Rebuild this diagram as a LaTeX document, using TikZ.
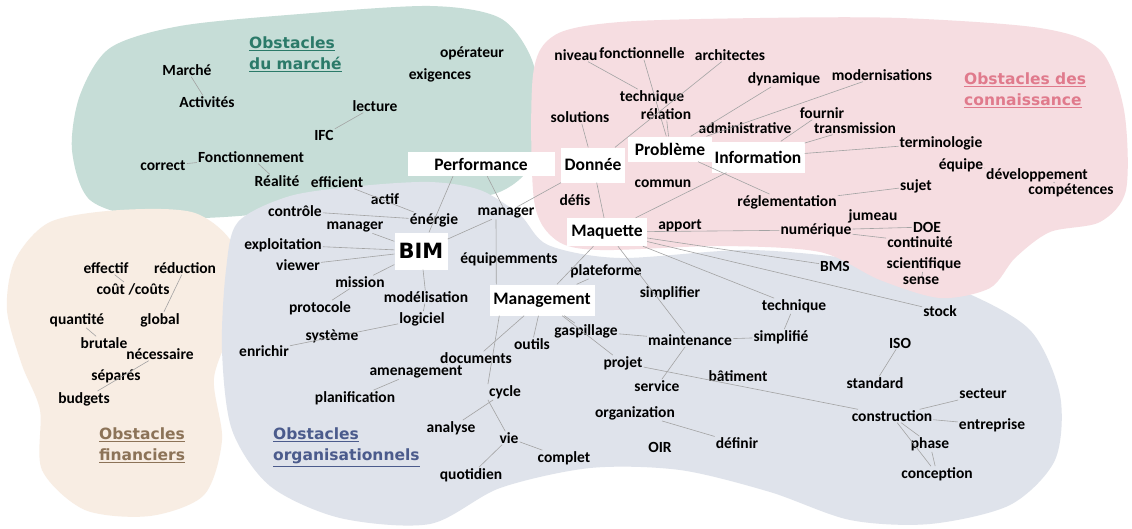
\documentclass[tikz,border=0pt]{standalone}
\usepackage{fontspec}
\setmainfont{Carlito}
\newfontfamily\headfont{DejaVu Sans}
\usepackage{tikz}

\definecolor{tealbg}{HTML}{C6DDD7}
\definecolor{pinkbg}{HTML}{F6DDE1}
\definecolor{beigebg}{HTML}{F8EDE3}
\definecolor{bluebg}{HTML}{DFE3EB}
\definecolor{tealtxt}{HTML}{2B7A69}
\definecolor{pinktxt}{HTML}{E07A8C}
\definecolor{browntxt}{HTML}{8C7358}
\definecolor{bluetxt}{HTML}{4B5B8C}
\definecolor{linkgray}{HTML}{A3A3A3}

\begin{document}
\begin{tikzpicture}[x=1pt,y=-1pt,
    word/.style={font=\fontsize{15.5}{17}\selectfont\bfseries, inner sep=1pt},
    hub/.style={fill=white, font=\fontsize{17.5}{19}\selectfont\bfseries, inner sep=0pt},
    link/.style={draw=linkgray, line width=0.6pt},
    heading/.style={font=\headfont\fontsize{15.5}{21}\selectfont\bfseries, align=left, anchor=north west, inner sep=0pt}]
                \useasboundingbox (0,0) rectangle (1132,528);
                \fill[white] (0,0) rectangle (1132,528);

                % regions
                \fill[tealbg] plot[smooth cycle] coordinates {(72,150) (80,95) (110,48) (180,26) (300,14) (430,6) (500,18) (532,60) (540,120) (528,170) (490,195) (420,192) (330,200) (250,215) (150,218) (90,200)};
                \fill[beigebg] plot[smooth cycle] coordinates {(15,260) (50,222) (120,210) (195,213) (236,250) (234,318) (214,378) (222,440) (204,495) (150,516) (85,510) (42,470) (40,410) (22,365) (7,310)};
                \fill[bluebg] plot[smooth cycle] coordinates {(238,222) (290,196) (360,186) (430,182) (480,190) (520,215) (548,245) (620,258) (750,250) (870,262) (960,290) (1030,330) (1060,395) (1055,460) (1010,505) (930,524) (850,520) (770,492) (680,470) (590,468) (500,488) (430,524) (340,518) (270,486) (232,430) (222,350) (226,270)};
                \fill[pinkbg] plot[smooth cycle] coordinates {(533,75) (555,35) (620,22) (760,18) (900,18) (1040,28) (1100,50) (1124,110) (1126,190) (1100,222) (1050,232) (1015,258) (990,288) (940,298) (880,280) (820,252) (720,246) (600,250) (556,240) (534,200)};

                % titles
                \node[heading, text=tealtxt] (tmarche) at (249,37) {\underline{Obstacles}\\\underline{du marché}};
                \node[heading, text=pinktxt] (tconn) at (964,73) {\underline{Obstacles des}\\\underline{connaissance}};
                \node[heading, text=browntxt] (tfin) at (99,428) {\underline{Obstacles}\\\underline{financiers}};
                \node[heading, text=bluetxt] (torg) at (273,428) {\underline{Obstacles}\\\underline{organisationnels}};

                % hubs
                \node[hub, minimum width=147, minimum height=24] (perf) at (481,164) {Performance};
                \node[hub, minimum width=64, minimum height=35] (donnee) at (593,165) {Donnée};
                \node[hub, minimum width=84, minimum height=25] (probleme) at (670,149) {Problème};
                \node[hub, minimum width=93, minimum height=31] (information) at (758,157) {Information};
                \node[hub, minimum width=53, minimum height=37, font=\headfont\fontsize{21}{23}\selectfont\bfseries] (bim) at (421,251) {BIM};
                \node[hub, minimum width=80, minimum height=28] (maquette) at (607,232) {Maquette};
                \node[hub, minimum width=105, minimum height=31] (management) at (542,300) {Management};

                % marche
                \node[word] (marche) at (187,70) {Marché};
                \node[word] (activites) at (207,102) {Activités};
                \node[word] (operateur) at (472,53) {opérateur};
                \node[word] (exigences) at (440,75) {exigences};
                \node[word] (lecture) at (375,106) {lecture};
                \node[word] (ifc) at (324,135) {IFC};
                \node[word] (correct) at (163,166) {correct};
                \node[word] (fonct) at (251,157) {Fonctionnement};
                \node[word] (realite) at (277,181) {Réalité};
                \node[word] (efficient) at (337,182) {efficient};
                \node[word] (actif) at (385,199) {actif};

                % connaissance
                \node[word] (niveau) at (576,55) {niveau};
                \node[word] (fonctionnelle) at (642,53) {fonctionnelle};
                \node[word] (architectes) at (730,55) {architectes};
                \node[word] (dynamique) at (784,79) {dynamique};
                \node[word] (modernisations) at (882,75) {modernisations};
                \node[word] (techniqueP) at (652,97) {technique};
                \node[word] (relation) at (666,114) {rélation};
                \node[word] (solutions) at (580,117) {solutions};
                \node[word] (administrative) at (745,128) {administrative};
                \node[word] (fournir) at (822,113) {fournir};
                \node[word] (transmission) at (855,128) {transmission};
                \node[word] (terminologie) at (941,143) {terminologie};
                \node[word] (equipe) at (961,165) {équipe};
                \node[word] (developpement) at (1037,175) {développement};
                \node[word] (competences) at (1071,190) {compétences};
                \node[word] (commun) at (663,184) {commun};
                \node[word] (defis) at (575,200) {défis};
                \node[word] (reglementation) at (787,202) {réglementation};
                \node[word] (sujet) at (916,186) {sujet};
                \node[word] (jumeau) at (873,216) {jumeau};
                \node[word] (numerique) at (816,230) {numérique};
                \node[word] (doe) at (927,227) {DOE};
                \node[word] (apport) at (680,226) {apport};
                \node[word] (continuite) at (920,242) {continuité};
                \node[word] (scientifique) at (924,264) {scientifique};
                \node[word] (sense) at (921,281) {sense};

                % financiers
                \node[word] (effectif) at (106,268) {effectif};
                \node[word] (reduction) at (185,268) {réduction};
                \node[word] (cout) at (133,289) {coût /coûts};
                \node[word] (quantite) at (77,320) {quantité};
                \node[word] (global) at (160,320) {global};
                \node[word] (brutale) at (104,343) {brutale};
                \node[word] (necessaire) at (160,354) {nécessaire};
                \node[word] (separes) at (116,376) {séparés};
                \node[word] (budgets) at (84,399) {budgets};

                % organisationnels
                \node[word] (controle) at (295,211) {contrôle};
                \node[word] (managerL) at (355,227) {manager};
                \node[word] (energie) at (434,220) {énérgie};
                \node[word] (managerR) at (506,213) {manager};
                \node[word] (exploit) at (283,245) {exploitation};
                \node[word] (viewer) at (298,265) {viewer};
                \node[word] (mission) at (360,282) {mission};
                \node[word] (equipem) at (509,259) {équipemments};
                \node[word] (plateforme) at (606,271) {plateforme};
                \node[word] (modelisation) at (426,297) {modélisation};
                \node[word] (protocole) at (320,308) {protocole};
                \node[word] (logiciel) at (422,319) {logiciel};
                \node[word] (simplifier) at (670,293) {simplifier};
                \node[word] (techniqueB) at (794,306) {technique};
                \node[word] (bms) at (835,266) {BMS};
                \node[word] (stock) at (940,311) {stock};
                \node[word] (systeme) at (332,336) {système};
                \node[word] (enrichir) at (264,351) {enrichir};
                \node[word] (gaspillage) at (586,331) {gaspillage};
                \node[word] (outils) at (532,344) {outils};
                \node[word] (maintenance) at (690,340) {maintenance};
                \node[word] (simplifie) at (781,337) {simplifié};
                \node[word] (iso) at (900,343) {ISO};
                \node[word] (documents) at (476,358) {documents};
                \node[word] (amenagement) at (416,372) {amenagement};
                \node[word] (projet) at (623,363) {projet};
                \node[word] (service) at (657,386) {service};
                \node[word] (batiment) at (738,376) {bâtiment};
                \node[word] (standard) at (875,383) {standard};
                \node[word] (secteur) at (983,394) {secteur};
                \node[word] (planification) at (355,398) {planification};
                \node[word] (cycle) at (505,392) {cycle};
                \node[word] (construction) at (892,416) {construction};
                \node[word] (entreprise) at (992,425) {entreprise};
                \node[word] (organization) at (635,413) {organization};
                \node[word] (analyse) at (451,428) {analyse};
                \node[word] (phase) at (930,444) {phase};
                \node[word] (vie) at (509,438) {vie};
                \node[word] (oir) at (660,447) {OIR};
                \node[word] (definir) at (737,443) {définir};
                \node[word] (complet) at (564,458) {complet};
                \node[word] (quotidien) at (471,475) {quotidien};
                \node[word] (conception) at (937,474) {conception};

                % links
                \draw[link] (marche) -- (activites);
                \draw[link] (lecture) -- (ifc);
                \draw[link] (correct) -- (fonct);
                \draw[link] (fonct) -- (realite);
                \draw[link] (efficient) -- (energie);
                \draw[link] (controle) -- (energie);
                \draw[link] ([xshift=-28pt]perf.south) -- (bim);
                \draw[link] (perf) -- (managerR);
                \draw[link] (donnee) -- (managerR);
                \draw[link] (managerR) -- (bim);
                \draw[link] ([xshift=-10pt]managerR.south) -- ([xshift=7pt]management.north west);
                \draw[link] (managerL) -- (bim);
                \draw[link] (exploit) -- (bim);
                \draw[link] (viewer) -- (bim);
                \draw[link] (mission) -- (bim);
                \draw[link] (bim) -- (modelisation);
                \draw[link] (modelisation) -- (logiciel);
                \draw[link] (mission) -- (protocole);
                \draw[link] (logiciel) -- (enrichir);
                \draw[link] (management) -- (documents);
                \draw[link] (documents) -- (amenagement);
                \draw[link] (amenagement) -- (planification);
                \draw[link] ([xshift=10pt]management.south west) -- (cycle.north west);
                \draw[link] (cycle.south west) -- (vie);
                \draw[link] (cycle) -- (analyse);
                \draw[link] (vie) -- (quotidien);
                \draw[link] (vie) -- (complet);
                \draw[link] (management) -- (outils);
                \draw[link] (management) -- (gaspillage);
                \draw[link] (gaspillage) -- (maintenance);
                \draw[link] (management) -- (projet);
                \draw[link] (projet) -- (construction);
                \draw[link] (management) -- (maquette);
                \draw[link] (management) -- (plateforme);
                \draw[link] (donnee) -- (maquette);
                \draw[link] (maquette) -- (information);
                \draw[link] (maquette) -- (numerique);
                \draw[link] (maquette) -- (bms);
                \draw[link] (maquette) -- (stock);
                \draw[link] (maquette) -- (techniqueB);
                \draw[link] (techniqueB) -- (simplifie);
                \draw[link] (simplifie) -- (maintenance);
                \draw[link] (maquette) -- (maintenance);
                \draw[link] (maintenance) -- (service);
                \draw[link] (organization) -- (definir);
                \draw[link] (iso) -- (standard);
                \draw[link] (construction) -- (secteur);
                \draw[link] (construction) -- (entreprise);
                \draw[link] (construction) -- (phase);
                \draw[link] (construction) -- (conception);
                \draw[link] (phase) -- (conception);
                \draw[link] (niveau) -- (techniqueP);
                \draw[link] (fonctionnelle) -- (probleme);
                \draw[link] (architectes) -- (donnee);
                \draw[link] (solutions) -- (donnee);
                \draw[link] (relation) -- (probleme);
                \draw[link] (dynamique) -- (probleme);
                \draw[link] (modernisations) -- (probleme);
                \draw[link] (fournir) -- (information);
                \draw[link] (transmission) -- (information);
                \draw[link] (terminologie) -- (information);
                \draw[link] (probleme) -- (reglementation);
                \draw[link] (reglementation) -- (sujet);
                \draw[link] (equipe) -- (developpement);
                \draw[link] (developpement) -- (competences);
                \draw[link] (numerique) -- (jumeau);
                \draw[link] (numerique) -- (doe);
                \draw[link] (numerique) -- (continuite);
                \draw[link] (scientifique) -- (sense);
                \draw[link] (effectif) -- (cout);
                \draw[link] (reduction) -- (global);
                \draw[link] (quantite) -- (brutale);
                \draw[link] (necessaire) -- (budgets);
            \end{tikzpicture}
\end{document}
